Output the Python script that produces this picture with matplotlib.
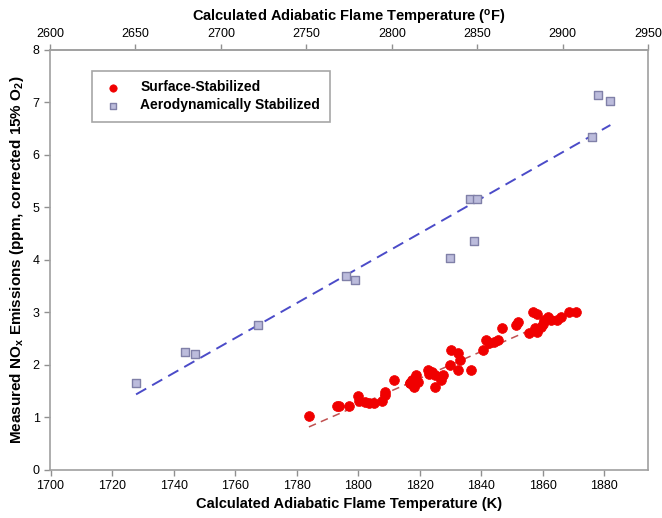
import matplotlib
matplotlib.use("Agg")
import matplotlib.pyplot as plt
import numpy as np

plt.rcParams['font.family'] = ['Liberation Sans', 'DejaVu Sans']
plt.rcParams['mathtext.fontset'] = 'custom'
plt.rcParams['mathtext.rm'] = 'Liberation Sans:bold'
plt.rcParams['mathtext.bf'] = 'Liberation Sans:bold'
plt.rcParams['mathtext.it'] = 'Liberation Sans:bold'

# Surface-stabilized data (K, ppm)
surf_T = [1784.0, 1793.2, 1793.9, 1796.9, 1799.8, 1800.2, 1802.1, 1803.4, 1805.0,
          1807.7, 1808.6, 1808.6, 1811.8, 1816.9, 1817.4, 1817.9, 1818.5, 1818.7,
          1818.3, 1822.8, 1823.9, 1824.9, 1824.9, 1826.9, 1827.6, 1829.8, 1830.3,
          1832.5, 1833.0, 1832.5, 1836.6, 1840.5, 1841.6, 1842.7, 1844.3, 1845.4,
          1846.7, 1851.3, 1852.1, 1855.6, 1856.7, 1858.1, 1858.3, 1859.4, 1860.5,
          1861.6, 1862.6, 1864.8, 1865.9, 1868.6, 1870.7, 1819.5, 1823.0, 1857.5,
          1860.0, 1817.0]
surf_NOx = [1.02, 1.21, 1.21, 1.21, 1.41, 1.32, 1.30, 1.28, 1.28,
            1.32, 1.43, 1.49, 1.71, 1.65, 1.71, 1.62, 1.75, 1.81,
            1.59, 1.90, 1.87, 1.81, 1.59, 1.71, 1.81, 2.00, 2.29,
            2.22, 2.10, 1.90, 1.90, 2.29, 2.48, 2.41, 2.44, 2.48,
            2.70, 2.76, 2.81, 2.60, 3.00, 2.98, 2.63, 2.73, 2.86,
            2.92, 2.86, 2.86, 2.92, 3.00, 3.00, 1.68, 1.83, 2.70,
            2.78, 1.66]

# Aerodynamically stabilized data (K, ppm)
aero_T = [1727.8, 1743.6, 1746.8, 1767.6, 1795.9, 1799.0, 1829.8, 1836.2,
          1837.6, 1838.7, 1876.0, 1878.0, 1882.0]
aero_NOx = [1.65, 2.25, 2.20, 2.77, 3.70, 3.61, 4.04, 5.16,
            4.36, 5.16, 6.35, 7.15, 7.02]

# Linear fit lines (endpoints)
aero_fit_T = [1727.8, 1882.0]
aero_fit_NOx = [1.44, 6.57]
surf_fit_T = [1784.0, 1869.0]
surf_fit_NOx = [0.82, 3.0]

x_ticks_K = [1700, 1720, 1740, 1760, 1780, 1800, 1820, 1840, 1860, 1880]
x_ticks_F = [2600, 2650, 2700, 2750, 2800, 2850, 2900, 2950]
y_ticks = [0, 1, 2, 3, 4, 5, 6, 7, 8]

def k2f(k):
    return (np.asarray(k) - 273.15) * 9.0 / 5.0 + 32.0

def f2k(f):
    return (np.asarray(f) - 32.0) * 5.0 / 9.0 + 273.15

fig = plt.figure(figsize=(6.62, 5.18), dpi=100)
ax = fig.add_axes([0.0755, 0.0927, 0.9035, 0.8108])

spine_col = '#a0a0a0'
ax.plot(aero_fit_T, aero_fit_NOx, linestyle=(0, (6, 3.5)), color='#4b4bc8', lw=1.4, zorder=2)
ax.plot(surf_fit_T, surf_fit_NOx, linestyle=(0, (5, 3.5)), color='#c05050', lw=1.1, zorder=2)
ax.scatter(surf_T, surf_NOx, s=50, color='#f00000', edgecolors='#f00000', linewidths=0.5,
           zorder=3, label='Surface-Stabilized')
ax.scatter(aero_T, aero_NOx, s=40, marker='s', color='#bcbcdc', edgecolors='#8080a8',
           linewidths=1.0, zorder=3, label='Aerodynamically Stabilized')

ax.set_xlim(f2k(2600), f2k(2950))
ax.set_ylim(0, 8)
ax.set_xticks(x_ticks_K)
ax.set_yticks(y_ticks)
ax.tick_params(axis='both', labelsize=9, colors='#909090', labelcolor='black', length=4,
               width=1, direction='out')
for s in ax.spines.values():
    s.set_color(spine_col)
    s.set_linewidth(1.2)

ax.set_xlabel('Calculated Adiabatic Flame Temperature (K)', fontsize=10.5, fontweight='bold', labelpad=3)
ax.set_ylabel('Measured NO$_\\mathregular{x}$ Emissions (ppm, corrected 15% O$_\\mathregular{2}$)',
              fontsize=11, fontweight='bold', labelpad=5)

sec = ax.secondary_xaxis('top', functions=(k2f, f2k))
sec.set_xticks(x_ticks_F)
sec.tick_params(labelsize=9, colors='#909090', labelcolor='black', length=4, width=1)
sec.spines['top'].set_color(spine_col)
sec.spines['top'].set_linewidth(1.2)
sec.set_xlabel('Calculated Adiabatic Flame Temperature ($^\\mathregular{o}$F)', fontsize=10.5,
               fontweight='bold', labelpad=4)

leg = ax.legend(loc='upper left', bbox_to_anchor=(0.07, 0.951), borderaxespad=0,
                frameon=True, fancybox=False, markerscale=0.75,
                edgecolor='#909090', fontsize=10, handletextpad=1.2, borderpad=0.7,
                labelspacing=0.3, scatterpoints=1, handlelength=1.6)
leg.get_frame().set_linewidth(1.2)
for t in leg.get_texts():
    t.set_fontweight('bold')

fig.savefig('out.png', dpi=100)
